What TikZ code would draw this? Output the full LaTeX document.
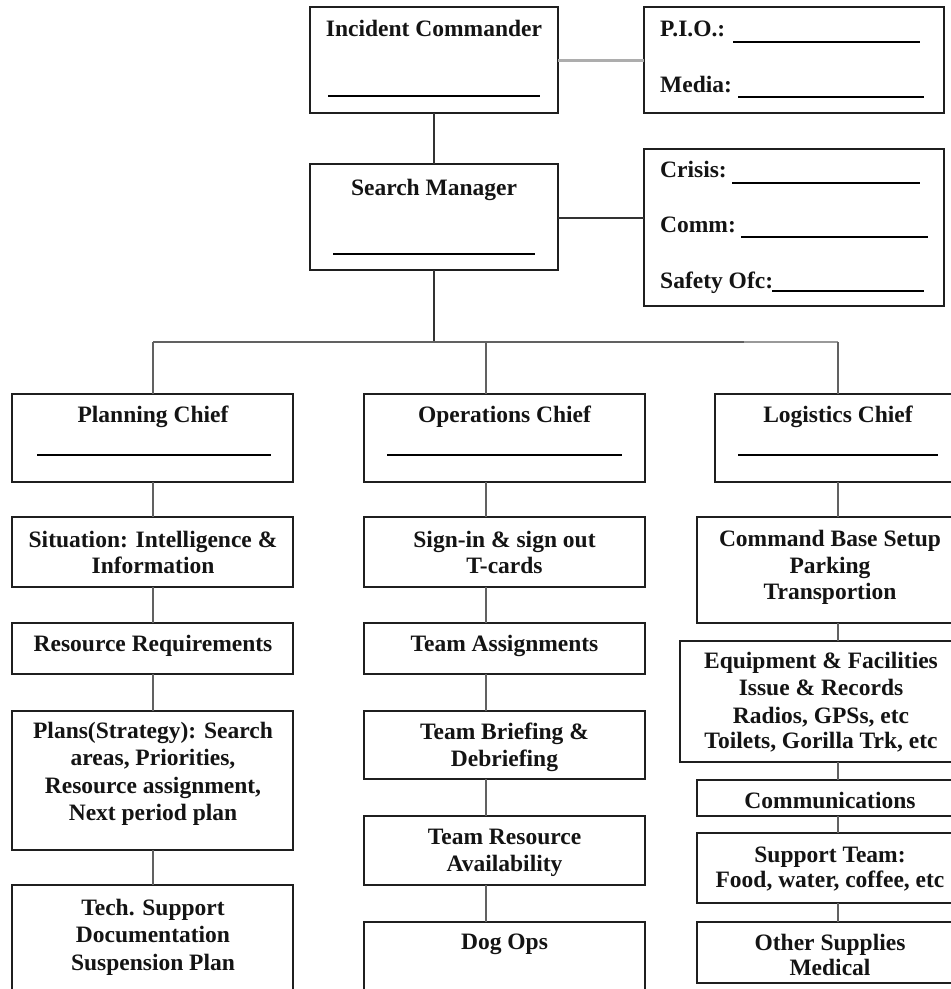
\documentclass[tikz,border=0pt]{standalone}
\usepackage{fontspec}
\setmainfont{Liberation Serif}
\begin{document}
\begin{tikzpicture}[x=1pt,y=-1pt,
  box/.style={draw=black!88,line width=2pt,inner sep=0pt,outer sep=0pt,rectangle},
  conn/.style={draw=black!62,line width=1.8pt},
  lconn/.style={draw=black!32,line width=3pt},
  blank/.style={draw=black,line width=1.6pt},
  lbl/.style={anchor=base,inner sep=0pt,font=\fontsize{23.5}{27}\selectfont\bfseries,text=black!92},
  lbw/.style={lbl,anchor=base west}]
\useasboundingbox (0,0) rectangle (951,989);
\clip (0,0) rectangle (951,989);
\fill[white] (0,0) rectangle (951,989);
% boxes
\node[box,minimum width=248pt,minimum height=106pt] (ic) at (434,60) {};
\node[box,minimum width=300pt,minimum height=106pt] (pio) at (794,60) {};
\node[box,minimum width=248pt,minimum height=106pt] (sm) at (434,217) {};
\node[box,minimum width=300pt,minimum height=157pt] (cr) at (794,227.5) {};
\node[box,minimum width=281pt,minimum height=88pt] (pc) at (152.5,438) {};
\node[box,minimum width=281pt,minimum height=88pt] (oc) at (504.5,438) {};
\node[box,minimum width=246pt,minimum height=88pt] (lc) at (838,438) {};
\node[box,minimum width=281pt,minimum height=70pt] (sit) at (152.5,552) {};
\node[box,minimum width=281pt,minimum height=51pt] (rr) at (152.5,648.5) {};
\node[box,minimum width=281pt,minimum height=139pt] (pl) at (152.5,780.5) {};
\node[box,minimum width=281pt,minimum height=125pt] (tech) at (152.5,947.5) {};
\node[box,minimum width=281pt,minimum height=70pt] (sg) at (504.5,552) {};
\node[box,minimum width=281pt,minimum height=51pt] (ta) at (504.5,648.5) {};
\node[box,minimum width=281pt,minimum height=68pt] (tb) at (504.5,745) {};
\node[box,minimum width=281pt,minimum height=69pt] (tr) at (504.5,850.5) {};
\node[box,minimum width=281pt,minimum height=88pt] (dog) at (504.5,966) {};
\node[box,minimum width=266pt,minimum height=106pt] (cb) at (830,570) {};
\node[box,minimum width=283pt,minimum height=121pt] (eq) at (821.5,701.5) {};
\node[box,minimum width=266pt,minimum height=36pt] (com) at (830,798) {};
\node[box,minimum width=266pt,minimum height=70pt] (sup) at (830,868) {};
\node[box,minimum width=266pt,minimum height=61pt] (oth) at (830,952.5) {};
% helper coordinates
\coordinate (xo) at (486,0);
\coordinate (xl) at (838,0);
\coordinate (xp) at (153,0);
\coordinate (bus) at (434,342);
\coordinate (busL) at (153,342);
\coordinate (busM) at (744,342);
\coordinate (busR) at (838,342);
% connectors
\draw[lconn] (ic.east) -- (pio.west);
\draw[conn,draw=black!80] (ic.south) -- (sm.north);
\draw[conn,draw=black!80] (sm.east |- 0,218) -- (cr.west |- 0,218);
\draw[conn,draw=black!80] (sm.south) -- (bus);
\draw[conn] (busL) -- (busM);
\draw[conn,draw=black!40] (busM) -- (busR);
\draw[conn] (busL) -- (pc.north -| xp);
\draw[conn] (bus -| xo) -- (oc.north -| xo);
\draw[conn] (busR) -- (lc.north -| xl);
\draw[conn] (pc.south -| xp) -- (sit.north -| xp);
\draw[conn] (sit.south -| xp) -- (rr.north -| xp);
\draw[conn] (rr.south -| xp) -- (pl.north -| xp);
\draw[conn] (pl.south -| xp) -- (tech.north -| xp);
\draw[conn] (oc.south -| xo) -- (sg.north -| xo);
\draw[conn] (sg.south -| xo) -- (ta.north -| xo);
\draw[conn] (ta.south -| xo) -- (tb.north -| xo);
\draw[conn] (tb.south -| xo) -- (tr.north -| xo);
\draw[conn] (tr.south -| xo) -- (dog.north -| xo);
\draw[conn] (lc.south -| xl) -- (cb.north -| xl);
\draw[conn] (cb.south -| xl) -- (eq.north -| xl);
\draw[conn] (eq.south -| xl) -- (com.north -| xl);
\draw[conn] (com.south -| xl) -- (sup.north -| xl);
\draw[conn] (sup.south -| xl) -- (oth.north -| xl);
% blank lines
\draw[blank] (328,96) -- (540,96);
\draw[blank] (333,254) -- (535,254);
\draw[blank] (733,42) -- (920,42);
\draw[blank] (738,97) -- (924,97);
\draw[blank] (732,183) -- (920,183);
\draw[blank] (741,237) -- (928,237);
\draw[blank] (772,291) -- (924,291);
\draw[blank] (37,455) -- (271,455);
\draw[blank] (387,455) -- (622,455);
\draw[blank] (738,455) -- (938,455);
% texts
\node[lbl] (t1) at (434,36) {Incident Commander};
\node[lbl] (t2) at (434,195) {Search Manager};
\node[lbw] (t3) at (660,36) {P.I.O.:};
\node[lbw] (t4) at (660,92) {Media:};
\node[lbw] (t5) at (660,177) {Crisis:};
\node[lbw] (t6) at (660,232) {Comm:};
\node[lbw] (t7) at (660,288) {Safety Ofc:};
\node[lbl] (t8) at (153,422) {Planning Chief};
\node[lbl] (t9) at (504.5,422) {Operations Chief};
\node[lbl] (t10) at (838,422) {Logistics Chief};
\node[lbl] (t11) at (153,547) {Situation: Intelligence \&};
\node[lbl] (t12) at (153,573) {Information};
\node[lbl] (t13) at (153,651) {Resource Requirements};
\node[lbl] (t14) at (153,738) {Plans(Strategy): Search};
\node[lbl] (t15) at (153,765.5) {areas, Priorities,};
\node[lbl] (t16) at (153,793) {Resource assignment,};
\node[lbl] (t17) at (153,820) {Next period plan};
\node[lbl] (t18) at (153,915) {Tech. Support};
\node[lbl] (t19) at (153,942) {Documentation};
\node[lbl] (t20) at (153,970) {Suspension Plan};
\node[lbl] (t21) at (504.5,547) {Sign-in \& sign out};
\node[lbl] (t22) at (504.5,573) {T-cards};
\node[lbl] (t23) at (504.5,651) {Team Assignments};
\node[lbl] (t24) at (504.5,739) {Team Briefing \&};
\node[lbl] (t25) at (504.5,766) {Debriefing};
\node[lbl] (t26) at (504.5,844) {Team Resource};
\node[lbl] (t27) at (504.5,871) {Availability};
\node[lbl] (t28) at (504.5,949) {Dog Ops};
\node[lbl] (t29) at (830,546) {Command Base Setup};
\node[lbl] (t30) at (830,573) {Parking};
\node[lbl] (t31) at (830,599) {Transportion};
\node[lbl] (t32) at (821,668) {Equipment \& Facilities};
\node[lbl] (t33) at (821,695) {Issue \& Records};
\node[lbl] (t34) at (821,723) {Radios, GPSs, etc};
\node[lbl] (t35) at (821,748) {Toilets, Gorilla Trk, etc};
\node[lbl] (t36) at (830,808) {Communications};
\node[lbl] (t37) at (830,862) {Support Team:};
\node[lbl] (t38) at (830,887) {Food, water, coffee, etc};
\node[lbl] (t39) at (830,950) {Other Supplies};
\node[lbl] (t40) at (830,975) {Medical};
\end{tikzpicture}
\end{document}
